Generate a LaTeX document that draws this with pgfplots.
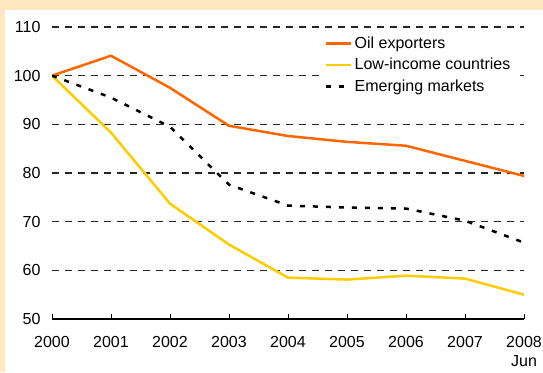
\documentclass[border=0pt]{standalone}
\usepackage{fontspec}
\setmainfont{Liberation Sans}
\usepackage{pgfplots}
\pgfplotsset{compat=1.18}
\definecolor{bgbeige}{RGB}{255,232,192}
\definecolor{oilc}{RGB}{255,102,0}
\definecolor{lowc}{RGB}{255,204,0}
\begin{document}
\fontsize{16}{19}\selectfont
\begin{tikzpicture}
\useasboundingbox (0,0) rectangle (543pt,372pt);
\fill[bgbeige] (0,0) rectangle (543pt,372pt);
\fill[white] (5pt,0) rectangle (543pt,362pt);
\begin{axis}[
  at={(52pt,53pt)}, anchor=south west,
  scale only axis, width=472pt, height=292pt,
  xmin=2000, xmax=2008, ymin=50, ymax=110,
  xtick={2000,2001,2002,2003,2004,2005,2006,2007,2008},
  xticklabels={2000,2001,2002,2003,2004,2005,2006,2007,{2008\\Jun}},
  xticklabel style={align=center, font=\fontsize{16}{19}\selectfont, yshift=-12pt},
  ytick={50,60,70,80,90,100,110},
  yticklabel style={font=\fontsize{16}{19}\selectfont, xshift=-6pt},
  /pgf/number format/assume math mode=true,
  axis x line*=bottom, axis y line*=left,
  y axis line style={draw=none},
  ytick style={draw=none},
  x axis line style={black, line width=1.2pt},
  xtick style={black, line width=1pt},
  xtick align=inside, major tick length=5pt,
  ymajorgrids,
  major grid style={black!85, line width=1.1pt, dash pattern=on 7pt off 6pt},
  legend style={at={(0.572,0.985)}, anchor=north west, draw=none, fill=white,
    font=\fontsize{16}{19}\selectfont, row sep=3.5pt, inner sep=3pt},
  legend cell align=left,
  legend image code/.code={\draw[#1] (0pt,0pt) -- (25pt,0pt);},
]
\addplot[oilc, line width=2.5pt] coordinates {
(2000,100) (2001,104.1) (2002,97.5) (2003,89.7) (2004,87.6) (2005,86.4) (2006,85.6) (2007,82.5) (2008,79.4)};
\addlegendentry{Oil exporters}
\addplot[lowc, line width=2.5pt] coordinates {
(2000,100) (2001,88.3) (2002,73.7) (2003,65.3) (2004,58.5) (2005,58.1) (2006,58.9) (2007,58.3) (2008,55.0)};
\addlegendentry{Low-income countries}
\addplot[black, line width=2.5pt, dash pattern=on 5pt off 8pt] coordinates {
(2000,100) (2001,95.5) (2002,89.5) (2003,77.6) (2004,73.3) (2005,72.9) (2006,72.7) (2007,70.2) (2008,65.7)};
\addlegendentry{Emerging markets}
\end{axis}
\end{tikzpicture}
\end{document}
